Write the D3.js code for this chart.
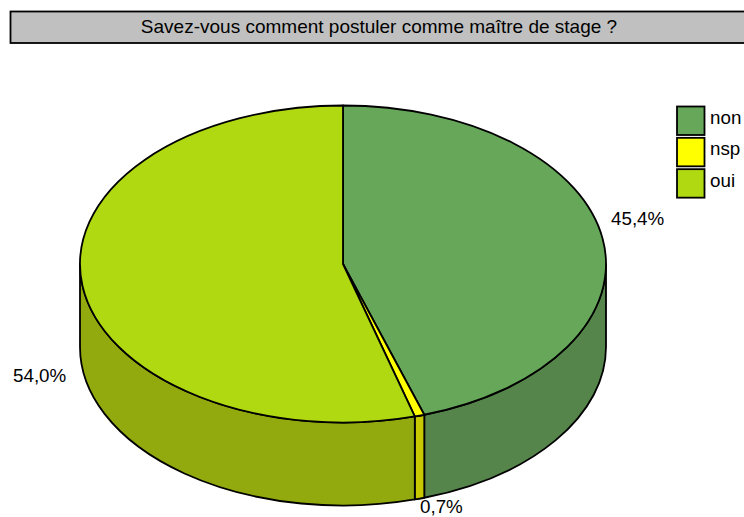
<!DOCTYPE html>
<html><head><meta charset="utf-8">
<script src="https://cdn.jsdelivr.net/npm/d3@7"></script>
<style>html,body{margin:0;padding:0;background:#fff}svg{display:block}text{font-family:"Liberation Sans",Arial,sans-serif;fill:#000}</style>
</head><body><svg id="c" width="744" height="517"></svg>
<script>
const chartTitle = "Savez-vous comment postuler comme maître de stage ?";
const categories = ["non","nsp","oui"];
const shares = [45.0,0.6,54.4];           // slice sizes as drawn
const valueLabels = ["45,4%","0,7%","54,0%"];
const topColors = ["#66a75a","#ffff00","#b0d911"];
const sideColors = ["#55854a","#c8c800","#92aa0e"];

const W=744,H=517,cx=343,cy=264,rx=263,ry=158.5,depth=83;
const svg=d3.select("#c");
const FS=18.8, SW=1.8;

// title
svg.append("rect").attr("x",10.5).attr("y",11.5).attr("width",740).attr("height",31.5).attr("fill","#c0c0c0").attr("stroke","#000").attr("stroke-width",SW);
svg.append("text").attr("x",379).attr("y",33).attr("text-anchor","middle").attr("font-size",19).text(chartTitle);

const pie=d3.pie().sort(null).value(d=>d)(shares);
const X=a=>cx+rx*Math.sin(a), Y=a=>cy-ry*Math.cos(a);
const g=svg.append("g");

// side walls (visible lower half)
pie.forEach((d,i)=>{
  const a0=Math.max(d.startAngle,Math.PI/2), a1=Math.min(d.endAngle,Math.PI*1.5);
  if(a1<=a0) return;
  const p=`M${X(a0)},${Y(a0)}A${rx},${ry} 0 0 1 ${X(a1)},${Y(a1)}L${X(a1)},${Y(a1)+depth}A${rx},${ry} 0 0 0 ${X(a0)},${Y(a0)+depth}Z`;
  g.append("path").attr("d",p).attr("fill",sideColors[i]).attr("stroke","#000").attr("stroke-width",SW).attr("stroke-linejoin","round");
});
// top slices
const arc=d3.arc().innerRadius(0).outerRadius(rx);
pie.forEach((d,i)=>{
  g.append("path").attr("d",arc(d)).attr("transform",`translate(${cx},${cy}) scale(1,${ry/rx})`)
   .attr("fill",topColors[i]).attr("stroke","#000").attr("stroke-width",SW).attr("vector-effect","non-scaling-stroke").attr("stroke-linejoin","round");
});
// value labels
const labelPos=[[611,225],[420,513],[13,382]];
valueLabels.forEach((t,i)=>svg.append("text").attr("x",labelPos[i][0]).attr("y",labelPos[i][1]).attr("font-size",FS).text(t));

// legend
const ly=d3.scaleBand().domain(categories).range([105.5,199.5]);
categories.forEach((c,i)=>{
  svg.append("rect").attr("x",677).attr("y",ly(c)+1).attr("width",27.5).attr("height",28.5).attr("fill",topColors[i]).attr("stroke","#000").attr("stroke-width",SW);
  svg.append("text").attr("x",710).attr("y",ly(c)+18.5).attr("font-size",FS).text(c);
});
</script></body></html>
